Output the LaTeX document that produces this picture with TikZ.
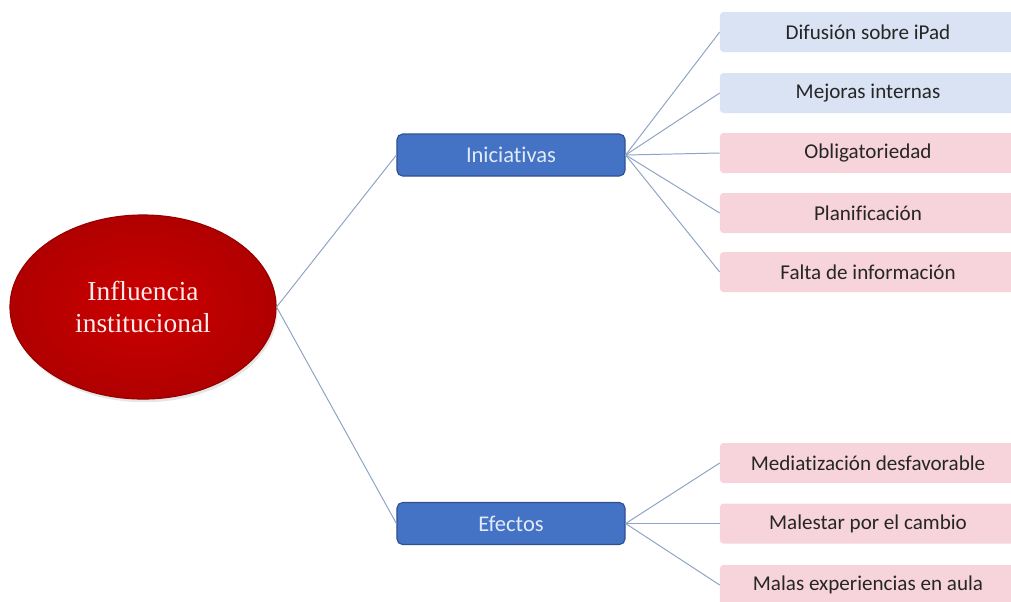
\documentclass[tikz,border=0pt]{standalone}
\usepackage{fontspec}
\setmainfont{Carlito}[Ligatures=NoCommon]
\newfontfamily\tituloserif{Liberation Serif}
\usetikzlibrary{shapes.geometric,shadows}

\definecolor{rojoin}{HTML}{CC0000}
\definecolor{rojoout}{HTML}{B00000}
\definecolor{azulcaja}{HTML}{4472C4}
\definecolor{azulborde}{HTML}{2F528F}
\definecolor{azultexto}{HTML}{E2EAF7}
\definecolor{hojaazul}{HTML}{DAE3F3}
\definecolor{hojarosa}{HTML}{F7D4DC}
\definecolor{ramacolor}{HTML}{8EA3C6}

\tikzset{
    centro/.style={ellipse, minimum width=6.65cm, minimum height=4.6cm,
        inner color=rojoin, outer color=rojoout, draw=rojoout!85!black,
        line width=0.8pt,
        drop shadow={opacity=0.2, shadow xshift=0.4mm, shadow yshift=-0.8mm},
        text=red!8, align=center, font=\tituloserif\fontsize{19.5}{22.5}\selectfont},
    rama/.style={draw=ramacolor, line width=0.7pt},
    grupo/.style={rectangle, rounded corners=4pt, fill=azulcaja, draw=azulborde,
        line width=0.8pt, minimum width=5.7cm, minimum height=1.05cm,
        text=azultexto, font=\fontsize{16}{19}\selectfont},
    hoja/.style={rectangle, rounded corners=2.5pt, minimum width=7.4cm,
        minimum height=1.0cm, text=black!85, font=\fontsize{15}{18}\selectfont}
}

\begin{document}
\begin{tikzpicture}[x=0.025cm, y=-0.025cm]
\useasboundingbox (0,0) rectangle (1011,601);
\clip (0,0) rectangle (1011,601);

% Central ellipse and the two groups
\node[centro] (inst) at (143,307) {Influencia\\institucional};
\node[grupo] (ini) at (511,155) {Iniciativas};
\node[grupo] (efe) at (511,523.5) {Efectos};

\draw[rama] (inst.east) -- (ini.west);
\draw[rama] (inst.east) -- (efe.west);

% Leaves of Iniciativas
\foreach \nombre/\y/\col/\txt in {dif/32/hojaazul/Difusión sobre iPad,
                                  mej/93/hojaazul/Mejoras internas,
                                  obl/153/hojarosa/Obligatoriedad,
                                  pla/213/hojarosa/Planificación,
                                  fal/272/hojarosa/Falta de información} {
    \node[hoja, fill=\col] (\nombre) at (868,\y) {\txt};
    \draw[rama] (ini.east) -- (\nombre.west);
}

% Leaves of Efectos
\foreach \nombre/\y/\txt in {med/463/Mediatización desfavorable,
                             mal/523.5/Malestar por el cambio,
                             exp/585/Malas experiencias en aula} {
    \node[hoja, fill=hojarosa] (\nombre) at (868,\y) {\txt};
    \draw[rama] (efe.east) -- (\nombre.west);
}

\end{tikzpicture}
\end{document}
